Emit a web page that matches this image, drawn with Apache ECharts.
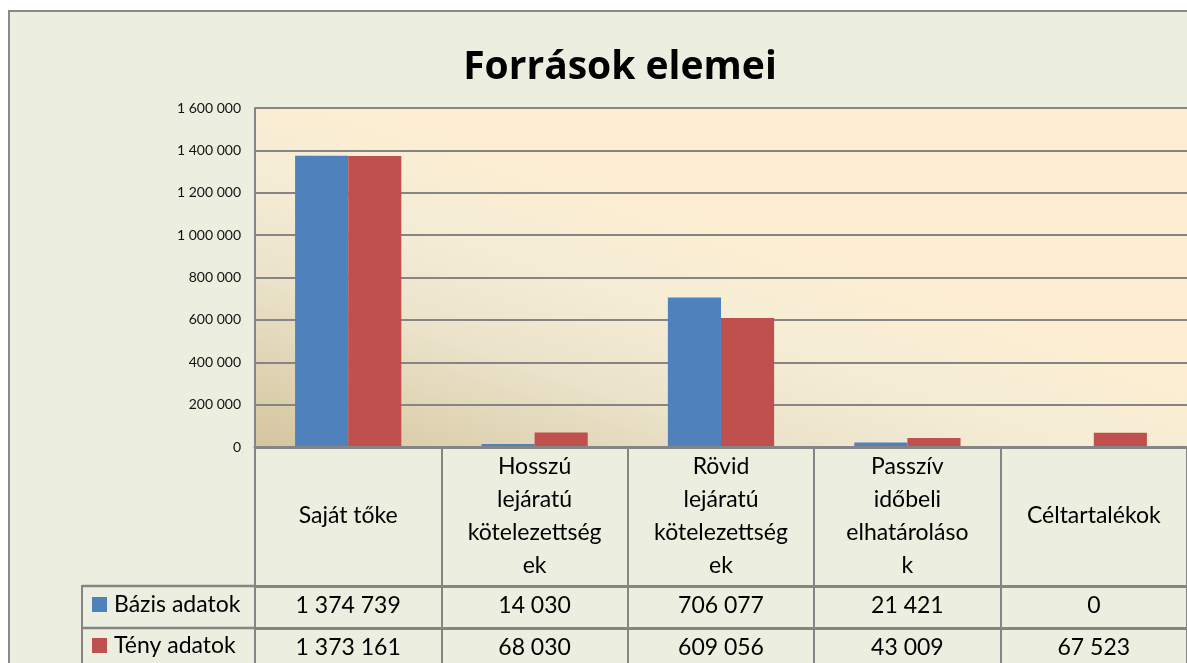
<!DOCTYPE html>
<html>
<head>
<meta charset="utf-8">
<script src="https://cdn.jsdelivr.net/npm/echarts@6/dist/echarts.min.js"></script>
<style>
html,body{margin:0;padding:0;background:#fff;width:1187px;height:663px;overflow:hidden;}
#frame{position:absolute;left:8px;top:10px;width:1300px;height:800px;border:2px solid #8a8a8a;background:#ECEFDF;box-sizing:border-box;}
#chart{position:absolute;left:0;top:0;width:1187px;height:663px;}
</style>
</head>
<body>
<div id="frame"></div>
<div id="chart"></div>
<script>
// ---- data ----
var categories = ["Saját tőke", "Hosszú lejáratú kötelezettségek", "Rövid lejáratú kötelezettségek", "Passzív időbeli elhatárolások", "Céltartalékok"];
var categoryLabels = ["Saját tőke", "Hosszú\nlejáratú\nkötelezettség\nek", "Rövid\nlejáratú\nkötelezettség\nek", "Passzív\nidőbeli\nelhatároláso\nk", "Céltartalékok"];
var seriesNames = ["Bázis adatok", "Tény adatok"];
var bazis = [1374739, 14030, 706077, 21421, 0];
var teny = [1373161, 68030, 609056, 43009, 67523];
var yTicks = [0, 200000, 400000, 600000, 800000, 1000000, 1200000, 1400000, 1600000];

function fmt(v) { return String(v).replace(/\B(?=(\d{3})+(?!\d))/g, ' '); }

var FONT = 'Lato';
var GRID = '#858585';
var TFS = 23;
var chart = echarts.init(document.getElementById('chart'), null, {renderer: 'canvas'});

function legendFor(i, top) {
  return {
    orient: 'horizontal', left: 92, top: top, padding: 0,
    itemWidth: 15, itemHeight: 15,
    icon: 'rect',
    textStyle: {fontFamily: FONT, fontSize: TFS, color: '#000', padding: [0, 0, 0, 2]},
    data: [seriesNames[i]]
  };
}

var option = {
  backgroundColor: 'transparent',
  animation: false,
  color: ['#4F81BD', '#C0504D'],
  title: {
    text: 'Források elemei',
    left: 615, top: 43, textAlign: 'center',
    textStyle: {fontFamily: 'Open Sans', fontWeight: 'bold', fontSize: 39, color: '#000'}
  },
  legend: [legendFor(0, 593), legendFor(1, 634)],
  grid: {
    left: 255, right: -1, top: 108, bottom: 216,
    show: true, borderWidth: 0,
    backgroundColor: {
      type: 'linear', x: 0, y: 1, x2: 0.12, y2: 0,
      colorStops: [
        {offset: 0, color: '#D4C59F'},
        {offset: 0.2, color: '#DED2B1'},
        {offset: 0.45, color: '#EAE2C9'},
        {offset: 0.75, color: '#F5EDD6'},
        {offset: 1, color: '#FDEED1'}
      ]
    }
  },
  xAxis: [
    {
      type: 'category', data: categoryLabels, position: 'bottom',
      axisLine: {show: true, lineStyle: {color: GRID, width: 3}},
      axisTick: {show: true, interval: 0, length: 138, lineStyle: {color: GRID, width: 2}},
      axisLabel: {interval: 0, fontFamily: FONT, fontSize: TFS, lineHeight: 33, color: '#000', margin: 69, verticalAlign: 'middle', align: 'center'},
      z: 5
    },
    {
      type: 'category', data: categories, position: 'bottom', offset: 139,
      axisLine: {show: true, lineStyle: {color: GRID, width: 3}},
      axisTick: {show: true, interval: 0, length: 42, lineStyle: {color: GRID, width: 2}},
      axisLabel: {interval: 0, fontFamily: FONT, fontSize: TFS, color: '#000', margin: 20, verticalAlign: 'middle',
        formatter: function (v, i) { return fmt(bazis[i]); }}
    },
    {
      type: 'category', data: categories, position: 'bottom', offset: 181,
      axisLine: {show: true, lineStyle: {color: GRID, width: 3}},
      axisTick: {show: true, interval: 0, length: 40, lineStyle: {color: GRID, width: 2}},
      axisLabel: {interval: 0, fontFamily: FONT, fontSize: TFS, color: '#000', margin: 20, verticalAlign: 'middle',
        formatter: function (v, i) { return fmt(teny[i]); }}
    }
  ],
  yAxis: {
    type: 'value', min: yTicks[0], max: yTicks[yTicks.length - 1], interval: yTicks[1] - yTicks[0],
    axisLine: {show: true, lineStyle: {color: GRID, width: 2}},
    axisTick: {show: false},
    splitLine: {show: true, lineStyle: {color: GRID, width: 1.8}},
    axisLabel: {fontFamily: FONT, fontSize: 14, color: '#111', margin: 14, formatter: function (v) { return fmt(v); }}
  },
  graphic: [
    {type: 'line', shape: {x1: 82, y1: 586, x2: 255, y2: 586}, style: {stroke: GRID, lineWidth: 2.5}, z: 10},
    {type: 'line', shape: {x1: 82, y1: 628, x2: 255, y2: 628}, style: {stroke: GRID, lineWidth: 2.5}, z: 10},
    {type: 'line', shape: {x1: 82, y1: 585, x2: 82, y2: 663}, style: {stroke: GRID, lineWidth: 2}, z: 10}
  ],
  series: [
    {name: seriesNames[0], type: 'bar', data: bazis, barGap: '0%', barCategoryGap: '43%', itemStyle: {color: '#4F81BD'}},
    {name: seriesNames[1], type: 'bar', data: teny, barGap: '0%', barCategoryGap: '43%', itemStyle: {color: '#C0504D'}}
  ]
};
chart.setOption(option);
</script>
</body>
</html>
